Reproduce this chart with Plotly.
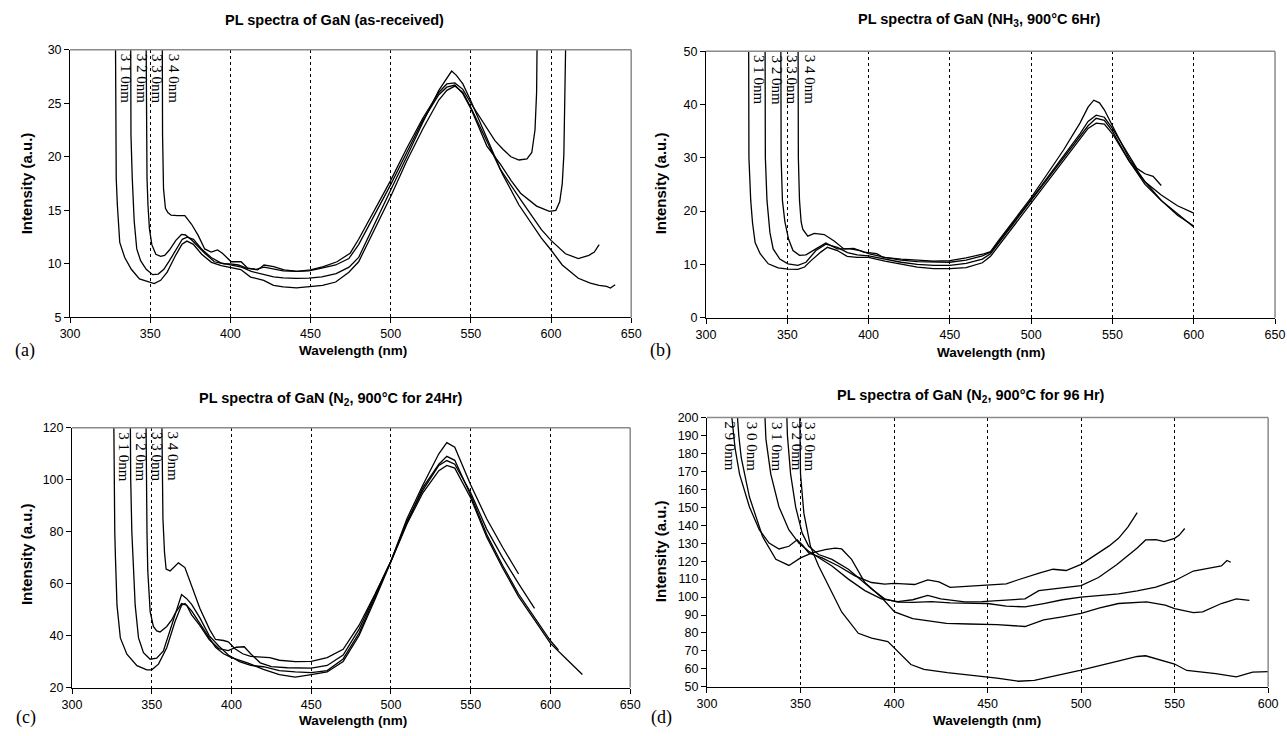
import plotly.graph_objects as go

W, H = 1287, 736

# ---------------- Panel (a): as-received ----------------
a_names = ["3 1 0nm", "3 2 0nm", "3 3 0nm", "3 4 0nm"]
a_label_x = [328.6, 338.6, 348.4, 358.6]
a310_x = [328.3, 328.4, 328.8, 329.5, 330.2, 331.0, 334.1, 338.2, 343.3, 349.4, 352.5, 356.5, 360.6, 365.7, 369.8, 372.9, 376.9, 382.1, 388.2, 394.3, 400.4, 406.5, 412.6, 420.8, 426.9, 433.0, 441.2, 449.4, 457.5, 465.7, 473.9, 480, 490, 500, 510, 520, 530, 535, 540, 545, 550, 560, 570, 580, 590, 594, 600, 607, 617, 624.5, 630, 634.7, 637, 640]
a310_y = [32, 22, 18, 15.5, 13.8, 12.0, 10.6, 9.5, 8.6, 8.31, 8.16, 8.47, 9.23, 10.76, 11.83, 12.13, 11.83, 10.9, 10.15, 9.85, 9.7, 9.48, 8.77, 8.47, 8.0, 7.85, 7.76, 7.85, 8.0, 8.31, 9.23, 10.2, 13.2, 16.3, 19.6, 22.6, 25.3, 26.2, 26.6, 26.0, 24.6, 21.5, 18.3, 15.5, 13.2, 12.4, 11.3, 9.9, 8.66, 8.2, 8.0, 7.9, 7.75, 8.05]
a320_x = [337.8, 338.0, 338.8, 340.0, 341.6, 344.0, 347.5, 351.5, 355.0, 358.5, 362.0, 366.0, 370.0, 373.0, 377.0, 382.0, 388.0, 394.0, 400.0, 407.0, 413.0, 421.0, 427.0, 433.0, 441.0, 449.0, 457.0, 466.0, 474.0, 480, 490, 500, 510, 520, 530, 535, 538, 541, 545, 550, 560, 568.5, 581, 594, 600, 609, 617, 623.6, 627, 630]
a320_y = [32, 22, 18, 14, 11.4, 10.3, 9.5, 9.0, 9.05, 9.5, 10.3, 11.3, 12.3, 12.5, 12.3, 11.4, 10.6, 10.1, 9.9, 9.7, 9.3, 9.0, 8.8, 8.7, 8.65, 8.68, 8.8, 9.1, 9.7, 10.6, 13.8, 16.9, 20.0, 23.2, 26.2, 27.3, 28.0, 27.6, 26.8, 25.2, 21.7, 18.8, 16.0, 13.2, 12.2, 10.95, 10.5, 10.8, 11.1, 11.8]
a330_x = [347.4, 347.6, 348.0, 348.6, 349.5, 351.0, 353.5, 356.5, 359.0, 362.0, 366.0, 369.5, 372.0, 376.0, 380.0, 384.0, 390.0, 396.0, 400.0, 405.0, 410.0, 416.0, 421.0, 427.0, 433.0, 441.0, 449.0, 457.0, 465.7, 473.9, 480, 490, 500, 510, 520, 530, 535, 540, 545, 550, 555.8, 560, 568.5, 575, 581, 591, 599, 603, 605.4, 607, 608, 608.8, 609.3]
a330_y = [32, 22, 18, 15.5, 13.3, 11.8, 10.9, 10.7, 10.8, 11.3, 12.2, 12.75, 12.7, 12.2, 11.6, 11.0, 10.2, 10.0, 10.0, 9.9, 9.6, 9.5, 9.7, 9.5, 9.35, 9.3, 9.35, 9.6, 9.9, 10.5, 11.8, 14.6, 17.4, 20.4, 23.4, 25.8, 26.5, 26.7, 25.9, 24.5, 22.4, 21.0, 19.3, 17.8, 16.6, 15.4, 14.9, 15.0, 15.8, 17.5, 20.2, 25, 32]
a340_x = [357.5, 357.7, 358.3, 359.5, 361.0, 363.0, 367.0, 371.6, 375.8, 379.9, 384.0, 388.0, 392.0, 395.0, 400.5, 406.7, 410.8, 417.0, 421.0, 427.0, 433.5, 441.8, 450.0, 458.0, 466.5, 474.7, 480, 490, 500, 510, 520, 530, 535, 540, 545, 550, 555, 560, 565, 570, 575, 580, 585, 588, 590, 591, 591.4]
a340_y = [32, 22, 17, 15.2, 14.8, 14.55, 14.5, 14.5, 13.7, 12.66, 11.4, 11.1, 11.3, 11.0, 10.2, 10.2, 9.6, 9.44, 9.9, 9.75, 9.44, 9.3, 9.44, 9.75, 10.2, 11.0, 12.3, 15.0, 17.8, 20.8, 23.6, 26.0, 26.8, 26.9, 26.3, 25.0, 23.8, 22.6, 21.5, 20.7, 20.0, 19.7, 19.8, 20.4, 22.5, 26, 32]

# ---------------- Panel (b): NH3 900C 6Hr ----------------
b_names = ["3 1 0nm", "3 2 0nm", "3 3 0nm", "3 4 0nm"]
b_label_x = [326.6, 337.3, 346.8, 357.5]
b310_x = [326.2, 326.4, 327.5, 328.6, 330.2, 333.3, 338.3, 344.4, 350.4, 356.5, 360.6, 364.6, 370.6, 374.7, 380.8, 386.8, 393, 400, 410, 420, 430, 440, 450, 460, 470, 475, 480, 490, 500, 510, 520, 530, 535, 540, 545, 550, 560, 570, 580, 590, 600]
b310_y = [55, 30, 22, 17.8, 14.1, 12.0, 10.1, 9.35, 9.1, 9.05, 9.5, 10.7, 12.3, 13.2, 12.6, 11.5, 11.3, 11.3, 10.6, 10.0, 9.5, 9.2, 9.2, 9.4, 10.3, 11.5, 13.5, 17.5, 21.5, 25.5, 29.5, 33.5, 35.5, 36.5, 36.3, 34.5, 29.5, 25.0, 22.0, 19.5, 17.0]
b320_x = [336.3, 336.5, 337.5, 338.5, 339.3, 341.3, 345.4, 350.4, 356.5, 361.5, 367.6, 373.7, 380.8, 387, 393, 400, 410, 420, 430, 440, 450, 460, 470, 475, 480, 490, 500, 510, 520, 530, 535, 540, 545, 550, 560, 570, 580, 590, 600]
b320_y = [55, 30, 22, 18, 16.0, 12.9, 11.0, 10.1, 9.8, 10.4, 12.6, 13.8, 13.2, 12.2, 11.8, 11.6, 11.0, 10.4, 10.0, 9.8, 9.8, 10.2, 11.0, 12.0, 14.0, 18.0, 22.0, 26.0, 30.0, 34.0, 36.0, 37.4, 37.0, 35.0, 29.5, 25.5, 22.0, 19.2, 17.2]
b330_x = [346.0, 346.2, 347.0, 348.5, 350.8, 353.5, 357.5, 361.5, 367.6, 373.7, 380.8, 388.8, 394.9, 400, 410, 420, 430, 440, 450, 460, 470, 475, 480, 490, 500, 510, 520, 530, 535, 540, 545, 550, 560, 565, 570, 575, 580]
b330_y = [55, 30, 22, 18, 14.7, 12.6, 11.7, 11.8, 12.9, 14.0, 12.9, 12.9, 12.6, 12.0, 11.3, 10.8, 10.5, 10.4, 10.4, 10.8, 11.6, 12.3, 14.2, 18.2, 22.2, 26.3, 30.5, 34.5, 36.8, 38.0, 37.6, 35.5, 30.5, 28.0, 27.0, 26.5, 24.8]
b340_x = [356.6, 356.8, 357.5, 358.5, 359.5, 362.6, 366.6, 372.7, 378.8, 384.8, 390.9, 397.0, 405.0, 409.1, 420, 430, 440, 450, 460, 470, 475, 480, 490, 500, 510, 520, 530, 535, 538.5, 542, 545, 550, 560, 570, 580, 590, 600]
b340_y = [55, 30, 22, 18, 16.6, 15.3, 15.8, 15.6, 14.4, 12.9, 13.0, 12.3, 12.0, 11.3, 11.0, 10.8, 10.6, 10.7, 11.2, 11.9, 12.4, 14.5, 18.5, 22.5, 27.0, 31.5, 36.5, 39.5, 40.8, 40.3, 39.0, 36.0, 30.0, 25.5, 23.0, 21.0, 19.6]

# ---------------- Panel (c): N2 900C 24Hr ----------------
c_names = ["3 1 0nm", "3 2 0nm", "3 3 0nm", "3 4 0nm"]
c_label_x = [326.7, 336.9, 346.9, 357.3]
c310_x = [326.1, 326.3, 326.8, 327.2, 328.2, 330.3, 334.4, 340.7, 346.9, 350.0, 354.2, 359.4, 364.6, 368.7, 370.8, 375, 380, 385, 390, 395, 400, 410, 420, 430, 440, 450, 460, 470, 480, 490, 500, 510, 520, 530, 535, 540, 550, 560, 570, 580, 590, 600, 610, 620]
c310_y = [130, 100, 80, 70.6, 51.7, 39.1, 32.8, 28.4, 26.8, 26.8, 29.0, 35.3, 45.4, 51.7, 52.3, 49.5, 45, 40, 35.5, 33, 31.5, 29.5, 27, 25, 24.0, 25.0, 26.0, 30, 40, 54, 68.5, 83, 95, 103.5, 105.5, 104.5, 93, 78, 66, 55, 46, 37, 31, 25]
c320_x = [336.5, 336.8, 337.5, 338.5, 339.6, 341.7, 344.8, 349.0, 353.1, 357.3, 362.5, 366.7, 368.7, 371.9, 375, 380, 386, 392, 398, 405, 412, 420, 430, 440, 450, 460, 470, 480, 490, 500, 510, 520, 530, 535, 540, 550, 560, 570, 580, 590, 600, 605]
c320_y = [130, 100, 80, 65, 51.7, 39.1, 33.4, 30.9, 31.3, 34.1, 44.1, 52.9, 55.8, 54.2, 52, 47, 40, 36, 32.5, 30, 28.5, 28, 26.5, 26.0, 25.7, 26.5, 31, 41, 54.5, 68.7, 83.5, 97, 106, 109, 107.5, 94, 79, 67, 56, 47, 38, 34.5]
c330_x = [346.3, 346.5, 347.0, 347.5, 349.0, 351.0, 353.1, 355.2, 357.3, 359.4, 362.5, 364.6, 368.7, 371.9, 375, 380, 386, 392, 398, 403, 408, 412, 418, 425, 435, 450, 460, 470, 480, 490, 500, 510, 520, 530, 535, 540, 550, 560, 570, 580, 590]
c330_y = [130, 100, 80, 65, 49.2, 43.5, 41.8, 41.4, 42.5, 43.5, 46, 48.5, 52.3, 51.7, 48, 44, 38.5, 35, 34.2, 35.5, 35.7, 33, 29.5, 28, 27.6, 27.5, 28.5, 32.5, 42.5, 55.5, 68.7, 84, 96, 105.5, 107.4, 106, 95, 81, 70, 60, 50.5]
c340_x = [356.2, 356.5, 357.0, 358.0, 359.0, 361.5, 364.0, 366.7, 370.8, 375.0, 380.2, 386.4, 390, 395, 398, 402, 407, 412, 418, 424, 430, 440, 450, 460, 470, 480, 490, 500, 510, 520, 530, 535, 540, 550, 560, 570, 580]
c340_y = [130, 100, 85, 72, 65.6, 64.9, 66.5, 68.0, 66.2, 59.3, 50.4, 42.2, 38.5, 38.1, 37.6, 35.0, 33.0, 32.0, 31.8, 31.5, 30.5, 30.0, 30.1, 31.5, 34.7, 44, 56, 68.7, 85, 98, 110, 114.3, 112.5, 98, 85, 74, 63.7]

# ---------------- Panel (d): N2 900C 96Hr ----------------
d_names = ["2 9 0nm", "3 0 0nm", "3 1 0nm", "3 2 0nm", "3 3 0nm"]
d_label_x = [307.1, 319.1, 332.4, 342.9, 350.0]
d290_x = [313.0, 313.3, 315.0, 317.4, 322.7, 328.0, 333.2, 338.5, 343.8, 348.2, 351.0, 354.4, 361.5, 370.3, 379.1, 388.0, 395.0, 400, 405, 411, 418, 424, 430, 440, 450, 460, 466, 470, 478, 485, 492, 500, 505, 510, 515, 520, 525, 530]
d290_y = [215, 200, 183, 168.5, 150.2, 137.4, 130.1, 126.8, 128.3, 131.9, 129, 124.6, 121.8, 117.3, 111.8, 108.1, 107.2, 107.6, 107.3, 107.0, 109.6, 108.5, 105.4, 106.0, 106.4, 107.3, 109.5, 110.9, 113.5, 115.5, 114.8, 118.2, 121.5, 125, 128.5, 132.7, 139, 147]
d300_x = [315.6, 317.0, 318.3, 322.7, 329.7, 336.8, 343.8, 350.0, 356.2, 363.2, 368.5, 372.0, 377.3, 384.4, 393.2, 400.3, 410, 420, 428, 440, 455, 470, 480, 490, 500, 510, 520, 535, 545, 550, 560, 565, 575, 583, 590]
d300_y = [210, 190, 177.6, 155.7, 133.7, 121.0, 117.6, 121.8, 124.6, 126.4, 127.3, 126.8, 121.0, 108.1, 99.9, 91.7, 88, 86.5, 85.3, 85.0, 84.7, 83.6, 87.3, 89, 90.9, 94, 96.4, 97.3, 95.5, 93.6, 91.3, 91.8, 96.4, 99, 98.2]
d310_x = [330.6, 331.5, 334.1, 338.5, 343.8, 349.1, 354.4, 359.7, 366.8, 375.6, 384.4, 393.2, 402.0, 410, 418, 425, 437.8, 447, 457.6, 470, 477.4, 490, 500, 509.3, 519, 530, 534.5, 540, 544.4, 550, 552.5, 555.4]
d310_y = [210, 188, 168.5, 150.2, 137.4, 130.1, 125.5, 121.8, 117.3, 110.0, 103.6, 99.0, 97.5, 98.5, 100.9, 99.0, 97.3, 97.5, 98.2, 99.0, 103.6, 105.0, 106.4, 110.9, 118.0, 127.3, 131.8, 132.0, 130.9, 132.7, 134.5, 138.2]
d320_x = [342.4, 343.0, 344.7, 347.4, 350.9, 354.4, 359.7, 366.8, 375.6, 380.9, 388.0, 395.0, 402.0, 410, 420, 430, 440, 450, 460, 470, 480, 490, 500, 510, 520, 530, 540, 550, 555, 560, 570, 575, 578, 580]
d320_y = [210, 190, 168.5, 150.2, 135.6, 128.3, 123.7, 121.0, 115.5, 110.9, 104.5, 99.0, 97.2, 97.0, 97.5, 96.8, 96.5, 96.4, 95.0, 94.5, 96.4, 98.5, 100.0, 101.0, 101.8, 103.5, 105.5, 109.1, 112.0, 114.5, 116.4, 117.3, 120.4, 119.4]
d330_x = [349.5, 349.8, 350.0, 351.8, 355.3, 359.7, 366.8, 372.0, 380.9, 388.0, 396.7, 402.0, 409.0, 416.0, 428.5, 455.0, 466.4, 475, 484, 499.4, 517, 530, 534.5, 541, 550, 556.5, 572, 583, 591.7, 600]
d330_y = [210, 185, 168.5, 146.6, 128.3, 117.3, 102.7, 91.7, 79.8, 77.1, 75.2, 69.8, 62.4, 59.7, 57.9, 54.8, 53.1, 53.6, 55.5, 59.1, 63.6, 66.9, 67.3, 65.5, 62.7, 59.1, 57.3, 55.5, 58.2, 58.5]

x_ticks_650 = [300, 350, 400, 450, 500, 550, 600, 650]
x_ticks_600 = [300, 350, 400, 450, 500, 550, 600]

titles = [
    "PL spectra of GaN (as-received)",
    "PL spectra of GaN (NH<sub>3</sub>, 900°C 6Hr)",
    "PL spectra of GaN (N<sub>2</sub>, 900°C for 24Hr)",
    "PL spectra of GaN (N<sub>2</sub>, 900°C for 96 Hr)",
]
panel_tags = ["(a)", "(b)", "(c)", "(d)"]

# ---------------- layout helpers (pixel geometry) ----------------
def fx(p):
    return p / W

def fy(p):
    return 1 - p / H

panels = [
    dict(xd=(61, 631), yd=(43.5, 316.5), xr=[300, 650], yr=[5, 30], dy=5, xt=x_ticks_650,
         series=[(a310_x, a310_y), (a320_x, a320_y), (a330_x, a330_y), (a340_x, a340_y)],
         names=a_names, lx=a_label_x,
         title=(330, 13), xtitle=(348, 350), ytitle=(17, 180), tag=(15, 350)),
    dict(xd=(707, 1285), yd=(45, 316.7), xr=[300, 650], yr=[0, 50], dy=10, xt=x_ticks_650,
         series=[(b310_x, b310_y), (b320_x, b320_y), (b330_x, b330_y), (b340_x, b340_y)],
         names=b_names, lx=b_label_x,
         title=(985, 13), xtitle=(996, 352), ytitle=(661, 180), tag=(661, 350)),
    dict(xd=(63, 630), yd=(429, 693.7), xr=[300, 650], yr=[20, 120], dy=20, xt=x_ticks_650,
         series=[(c310_x, c310_y), (c320_x, c320_y), (c330_x, c330_y), (c340_x, c340_y)],
         names=c_names, lx=c_label_x,
         title=(326, 400), xtitle=(348, 727), ytitle=(17, 558), tag=(16, 724)),
    dict(xd=(708, 1278), yd=(418.5, 693), xr=[300, 600], yr=[50, 200], dy=10, xt=x_ticks_600,
         series=[(d290_x, d290_y), (d300_x, d300_y), (d310_x, d310_y), (d320_x, d320_y), (d330_x, d330_y)],
         names=d_names, lx=d_label_x,
         title=(976, 397), xtitle=(992, 727), ytitle=(661, 555), tag=(662, 724)),
]

fig = go.Figure()
annotations = []
shapes = []
SANS = "Liberation Sans, Arial, sans-serif"
SERIF = "Liberation Serif, Times New Roman, serif"

for i, p in enumerate(panels):
    n = "" if i == 0 else str(i + 1)
    xa, ya = "x" + n, "y" + n
    for (sx, sy) in p["series"]:
        fig.add_trace(go.Scatter(x=sx, y=sy, mode="lines", xaxis=xa, yaxis=ya,
                                 line=dict(color="black", width=1.3), showlegend=False,
                                 hoverinfo="skip"))
    fig.layout["xaxis" + n] = dict(
        domain=[fx(p["xd"][0]), fx(p["xd"][1])], anchor=ya, range=p["xr"],
        tickmode="array", tickvals=p["xt"], ticks="outside", ticklen=5, tickcolor="black",
        showline=True, linecolor="black", linewidth=1, showgrid=True, gridcolor="black",
        griddash="dot", gridwidth=1, zeroline=False,
        tickfont=dict(family=SANS, size=12.5, color="black"))
    fig.layout["yaxis" + n] = dict(
        domain=[fy(p["yd"][1]), fy(p["yd"][0])], anchor=xa, range=p["yr"],
        tick0=p["yr"][0], dtick=p["dy"], ticks="outside", ticklen=5, tickcolor="black",
        showline=True, linecolor="black", linewidth=1, showgrid=False, zeroline=False,
        tickfont=dict(family=SANS, size=12.5, color="black"))
    # gray plot-area border (top and right)
    shapes.append(dict(type="line", xref=xa + " domain", yref=ya + " domain", x0=0, x1=1, y0=1, y1=1,
                       line=dict(color="#8a8a8a", width=1.5), layer="above"))
    shapes.append(dict(type="line", xref=xa + " domain", yref=ya + " domain", x0=1, x1=1, y0=0, y1=1,
                       line=dict(color="#8a8a8a", width=1.5), layer="above"))
    # curve labels
    for name, lx in zip(p["names"], p["lx"]):
        annotations.append(dict(text=name, x=lx, xref=xa, y=1, yref=ya + " domain",
                                xanchor="left", yanchor="top", yshift=-2, showarrow=False,
                                textangle=90, font=dict(family=SERIF, size=15, color="black")))
    annotations.append(dict(text="<b>%s</b>" % titles[i], x=fx(p["title"][0]), y=fy(p["title"][1]),
                            xref="paper", yref="paper", xanchor="center", yanchor="middle",
                            showarrow=False, font=dict(family=SANS, size=14.5, color="black")))
    annotations.append(dict(text="<b>Wavelength (nm)</b>", x=fx(p["xtitle"][0]), y=fy(p["xtitle"][1]),
                            xref="paper", yref="paper", xanchor="center", yanchor="middle",
                            showarrow=False, font=dict(family=SANS, size=13.5, color="black")))
    annotations.append(dict(text="<b>Intensity (a.u.)</b>", x=fx(p["ytitle"][0]), y=fy(p["ytitle"][1]),
                            xref="paper", yref="paper", xanchor="center", yanchor="middle",
                            textangle=-90, showarrow=False, font=dict(family=SANS, size=15, color="black")))
    annotations.append(dict(text=panel_tags[i], x=fx(p["tag"][0]), y=fy(p["tag"][1]),
                            xref="paper", yref="paper", xanchor="center", yanchor="middle",
                            showarrow=False, font=dict(family=SERIF, size=18, color="black")))

fig.update_layout(width=W, height=H, margin=dict(l=0, r=0, t=0, b=0),
                  paper_bgcolor="white", plot_bgcolor="white",
                  annotations=annotations, shapes=shapes, showlegend=False)
fig.write_html("out.html", config={"displayModeBar": False},
               post_script="document.body.style.margin='0';document.body.style.overflow='hidden';")
